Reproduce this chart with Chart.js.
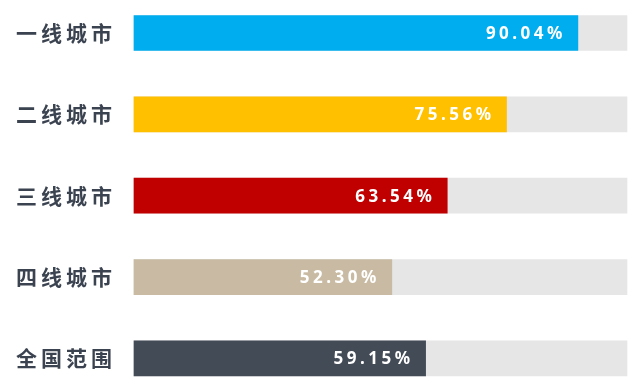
<!DOCTYPE html>
<html>
<head>
<meta charset="utf-8">
<script src="https://cdn.jsdelivr.net/npm/chart.js@4/dist/chart.umd.min.js"></script>
<style>
  html, body { margin: 0; padding: 0; background: #fff; }
  #wrap { width: 640px; height: 389px; }
</style>
</head>
<body>
<div id="wrap"><canvas id="chart" width="640" height="389"></canvas></div>
<script>
const categories = ['一线城市', '二线城市', '三线城市', '四线城市', '全国范围'];
const rates = [90.04, 75.56, 63.54, 52.30, 59.15];
const fullScale = [100, 100, 100, 100, 100];
const barColors = ['#00aeef', '#ffc000', '#c00000', '#c9bba3', '#434b57'];

// white value text at the end of each bar, spaced out
const valueLabels = {
  id: 'valueLabels',
  beforeDraw(chart) {
    chart.ctx.letterSpacing = '4px';
  },
  beforeDatasetsDraw(chart) {
    chart.ctx.letterSpacing = '0px';
  },
  afterDatasetsDraw(chart) {
    const ctx = chart.ctx;
    const meta = chart.getDatasetMeta(0);
    ctx.save();
    ctx.letterSpacing = '3.5px';
    ctx.font = 'bold 17px "Noto Sans"';
    ctx.fillStyle = '#ffffff';
    ctx.textAlign = 'right';
    ctx.textBaseline = 'middle';
    meta.data.forEach((bar, i) => {
      ctx.fillText(rates[i].toFixed(2) + '%', bar.x - 12, bar.y + 1);
    });
    ctx.restore();
  }
};

new Chart(document.getElementById('chart'), {
  type: 'bar',
  data: {
    labels: categories,
    datasets: [
      {
        data: rates,
        backgroundColor: barColors,
        barThickness: 35,
        grouped: false,
        order: 1,
        clip: false
      },
      {
        data: fullScale,
        backgroundColor: '#e6e6e6',
        barThickness: 35,
        grouped: false,
        order: 2,
        clip: false
      }
    ]
  },
  options: {
    indexAxis: 'y',
    responsive: false,
    animation: false,
    layout: { padding: { top: 33, bottom: 27, right: 13, left: 0 } },
    plugins: {
      legend: { display: false },
      tooltip: { enabled: false }
    },
    scales: {
      x: { display: false, min: 0, max: 100 },
      y: {
        offset: false,
        grid: { display: false, drawTicks: false },
        border: { display: false },
        ticks: {
          color: '#3b4350',
          padding: 18,
          font: { family: '"Noto Sans CJK SC"', size: 21, weight: 'bold' }
        },
        afterFit(scale) { scale.width = 134; }
      }
    }
  },
  plugins: [valueLabels]
});
</script>
</body>
</html>
